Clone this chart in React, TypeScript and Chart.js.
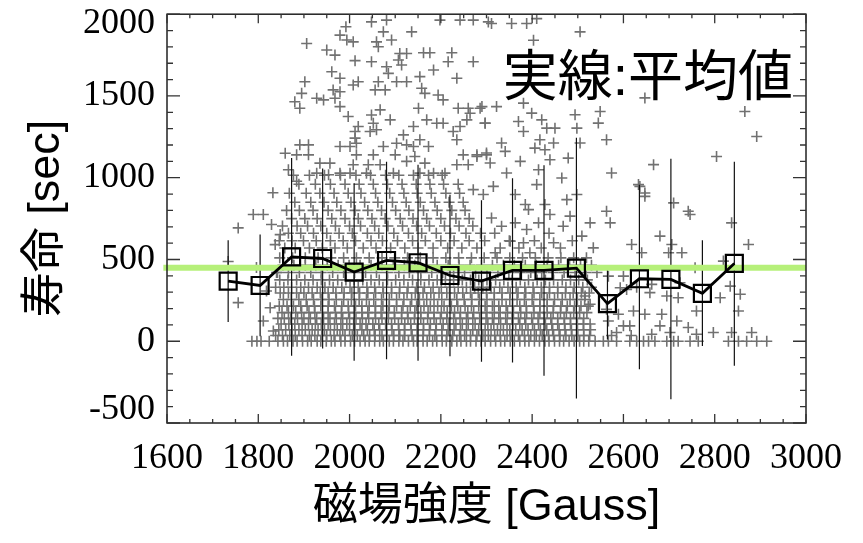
import React, { useEffect, useRef } from 'react';
import { Chart, registerables } from 'chart.js';

Chart.register(...registerables);

// ---- axes ----
const xTicks = [1600, 1800, 2000, 2200, 2400, 2600, 2800, 3000];
const yTicks = [-500, 0, 500, 1000, 1500, 2000];
const xMinorStep = 50;
const yMinorStep = 100;

const xTitle = '磁場強度 [Gauss]';
const yTitle = '寿命 [sec]';
const noteText = '実線:平均値';

// ---- binned mean with error bars ----
const binCenters = [1734, 1804, 1873, 1941, 2010, 2081, 2150, 2220, 2289, 2357, 2426, 2497, 2565, 2635, 2704, 2773, 2843];
const binMeans = [368, 341, 516, 506, 423, 494, 480, 402, 368, 433, 433, 447, 230, 382, 378, 293, 476];
const errLow = [118, 30, -89, -45, -120, -110, -120, -92, -126, -130, -211, -350, 10, -171, -354, -29, -150];
const errHigh = [618, 652, 1121, 1057, 966, 1098, 1080, 896, 862, 996, 1077, 1244, 450, 957, 1116, 618, 1098];

// overall mean (green line)
const overallMean = 450;
const overallSpan = [1592, 3000];

// ---- scatter: individual measurements ----
const upperPts: [number, number][] = [
  [2048,1953],[2081,1964],[2198,1964],[2242,1964],[2271,1964],[2304,1953],[1992,1923],[2074,1892],[2136,1892],[1979,1872],
  [1994,1842],[2008,1831],[2059,1831],[2092,1842],[1906,1821],[2063,1801],[1950,1781],[2110,1760],[2125,1760],[2162,1764],
  [2176,1764],[2224,1764],[1968,1750],[2012,1716],[2048,1709],[2107,1720],[2216,1709],[2271,1709],[2081,1679],[2114,1689],
  [2184,1659],[1961,1648],[1979,1608],[2085,1638],[2235,1608],[2154,1618],[1902,1587],[2019,1587],[2063,1587],[2103,1587],
  [2125,1587],[2008,1567],[2056,1537],[2078,1537],[2158,1547],[1964,1537],[1895,1516],[1979,1526],[2165,1516],[2194,1506],
  [1928,1486],[1880,1465],[1968,1486],[2205,1476],[1943,1476],[1891,1425],[1979,1435],[2151,1425],[2238,1425],[2260,1425],
  [2286,1425],[2067,1415],[2264,1394],[2048,1384],[1997,1374],[2089,1354],[2169,1354],[2191,1333],[2205,1333],[2257,1354],
  [2297,1333],[2052,1333],[2019,1313],[2140,1313],[2242,1313],[2012,1283],[2045,1283],[2059,1293],[2227,1283],[2118,1262],
  [2012,1242],[2235,1232],[2154,1232],[1891,1201],[1910,1201],[1979,1191],[2001,1191],[2015,1211],[2074,1191],[2103,1211],
  [2125,1201],[2140,1191],[2173,1191],[1859,1150],[1884,1140],[1910,1140],[2015,1140],[2052,1140],[2100,1140],[2143,1130],
  [2249,1140],[2279,1140],[2300,1140],[1935,1089],[1957,1089],[2008,1079],[2041,1079],[2067,1079],[2125,1100],[2165,1089],
  [2235,1079],[2260,1079],[1866,1049],[1928,1028],[1954,1018],[1979,1028],[2001,1028],[2037,1028],[2096,1028],[2154,1028],
  [2184,1028],[2209,1028],[1832,908],[1884,978],[2311,1943],[2355,1943],[2388,1943],[2410,1973],[2505,1892],[2403,1841],
  [2647,1488],
];

const rightUpperPts: [number, number][] = [
  [2290,1435],[2322,1435],[2381,1456],[2297,1334],[2370,1344],[2399,1395],[2421,1354],[2494,1385],[2549,1405],[2545,1334],
  [2381,1283],[2432,1303],[2450,1303],[2498,1303],[2866,1405],[2892,1252],[2333,1212],[2417,1232],[2447,1212],[2505,1212],
  [2563,1232],[2341,1161],[2406,1181],[2428,1171],[2300,1151],[2279,1130],[2308,1090],[2374,1100],[2439,1110],[2479,1120],
  [2804,1130],[2666,1080],[2574,1029],[2344,1029],[2414,1049],[2465,998],[2315,947],[2271,927],[2293,897],[2363,897],
  [2410,958],[2498,897],[2636,947],[2647,886],[2710,846],[2742,795],[2563,795],[2385,836],[2428,836],[2476,866],
  [2392,805],[2439,775],[2483,765],[2311,754],[2363,724],[2414,724],[2527,724],[2571,724],[2837,724],[2333,703],
  [2388,683],[2468,703],[2509,643],[2680,643],[2618,592],[2706,592],[2874,592],[2352,612],[2381,602],[2447,602],
  [2534,571],[2640,541],[2699,541],[2728,541],[2319,541],[2395,541],[2633,958],[2647,907],[2746,775],
];

const rightLowerPts: [number, number][] = [
  [2757,449],[2819,490],[2567,398],[2600,398],[2662,348],[2724,358],[2834,337],[2856,287],[2593,327],[2658,297],
  [2695,277],[2720,266],[2812,266],[2516,277],[2527,226],[2852,185],[2622,185],[2647,165],[2684,165],[2760,185],
  [2567,124],[2717,124],[2600,94],[2614,94],[2680,94],[2742,84],[2797,53],[2837,53],[2881,53],[2585,53],
  [2662,43],[2702,53],[2760,43],[2563,195],[2589,165],[2607,317],[2629,330],
];

const leftPts: [number, number][] = [
  [1734,488],[1756,693],[1756,236],[1789,775],[1811,775],[1829,714],[1848,652],[1837,591],[1796,451],[1818,307],
  [1833,63],[1811,124],[1826,205],[1840,420],
];

// dense cloud, read row by row (lifetime level -> field strengths)
const coreRowLevels = [0, 35, 70, 105, 140, 175, 215, 255, 295];
const coreRowXs: number[][] = [
  [1786,1797,1806,1824,1843,1855,1864,1876,1885,1897,1908,1916,1929,1937,1949,1960,1968,1981,1990,2002,2011,2023,2034,2043,2055,2066,2074,2087,2096,2108,2117,2129,2140,2148,2161,2170,2182,2191,2203,2212,2224,2235,2244,2256,2265,2277,2288,2297,2309,2320,2331,2340,2352,2361,2373,2384,2393,2405,2416,2428,2437,2449,2460,2469,2481,2492,2504,2513,2524,2538,2556,2567,2585,2614,2629,2644,2655,2669,2695,2710,2720,2746,2764,2830,2852,2870,2892,2914],
  [1838,1853,1869,1881,1896,1912,1924,1939,1950,1966,1979,1990,2006,2017,2031,2044,2056,2071,2082,2097,2110,2121,2137,2149,2161,2175,2187,2202,2213,2226,2241,2252,2265,2279,2292,2304,2318,2330,2345,2356,2370,2383,2397,2409,2422,2436,2447,2461,2474,2487,2500,2513,2526,2574,2617],
  [1845,1860,1874,1889,1903,1918,1931,1945,1958,1973,1985,2000,2012,2027,2039,2054,2066,2081,2093,2108,2120,2135,2148,2162,2175,2189,2202,2216,2229,2243,2256,2270,2283,2297,2310,2324,2337,2351,2364,2378,2391,2405,2418,2432,2445,2459,2472,2486,2499,2513,2528],
  [1850,1867,1880,1896,1910,1925,1938,1953,1967,1981,1994,2009,2023,2036,2051,2064,2079,2092,2107,2121,2134,2149,2162,2177,2190,2205,2218,2233,2247,2260,2275,2288,2303,2316,2331,2345,2358,2373,2386,2401,2414,2429,2443,2456,2471,2484,2499,2512,2527],
  [1843,1857,1871,1886,1900,1914,1928,1943,1957,1971,1985,2000,2014,2028,2042,2057,2071,2085,2099,2114,2128,2142,2156,2171,2185,2199,2213,2228,2242,2256,2270,2285,2299,2313,2327,2342,2356,2370,2384,2399,2413,2427,2441,2456,2470,2484,2498,2513],
  [1852,1866,1882,1895,1911,1924,1940,1953,1969,1982,1998,2011,2027,2040,2056,2069,2085,2098,2114,2127,2143,2156,2172,2185,2201,2214,2230,2243,2259,2272,2288,2301,2317,2330,2346,2359,2375,2388,2404,2417,2433,2446,2462,2475,2491,2504,2520],
  [1846,1863,1877,1893,1907,1923,1937,1953,1967,1983,1997,2013,2027,2043,2057,2073,2087,2103,2117,2133,2147,2163,2177,2193,2207,2223,2237,2253,2267,2283,2297,2313,2327,2343,2357,2373,2387,2403,2417,2433,2447,2463,2477,2493,2507,2523],
  [1855,1872,1889,1905,1921,1938,1955,1971,1987,2004,2021,2037,2053,2070,2087,2103,2119,2136,2153,2169,2185,2202,2219,2235,2251,2268,2285,2301,2317,2334,2351,2367,2383,2400,2417,2433,2449,2466,2483,2499,2515],
  [1848,1866,1884,1900,1918,1936,1953,1970,1988,2005,2022,2040,2057,2074,2092,2109,2126,2144,2161,2178,2196,2213,2230,2248,2265,2282,2300,2317,2334,2352,2369,2386,2404,2421,2438,2456,2473,2490,2508,2525],
];

const midRowLevels = [330, 375, 420, 465, 510];
const midRowXs: number[][] = [
  [1838,1856,1873,1893,1910,1929,1946,1964,1983,2001,2019,2038,2055,2073,2092,2110,2128,2147,2164,2183,2201,2219,2238,2256,2274,2292,2310,2329,2347,2365,2384,2402,2420,2438,2456,2474,2492,2511,2530],
  [1847,1865,1884,1902,1920,1938,1956,1974,1992,2010,2029,2047,2065,2083,2101,2119,2138,2156,2174,2192,2210,2228,2247,2265,2283,2301,2320,2338,2356,2374,2392,2411,2429,2447,2466,2484,2502,2521],
  [1842,1866,1890,1915,1938,1963,1987,2011,2035,2059,2083,2108,2131,2156,2180,2204,2228,2252,2276,2301,2325,2349,2373,2397,2421,2446,2470,2494,2518,2542],
  [1854,1878,1903,1926,1951,1975,1999,2023,2047,2071,2096,2120,2143,2168,2192,2216,2240,2264,2289,2313,2337,2361,2385,2409,2433,2458,2482,2506,2530],
  [1847,1875,1903,1931,1959,1987,2015,2043,2071,2099,2127,2155,2183,2211,2239,2267,2295,2323,2351,2379,2407,2435,2463,2491,2519],
];

const upperRowLevels = [570, 615, 660, 705, 750, 800, 850, 905, 960, 1015];
const upperRowXs: number[][] = [
  [1858,1881,1912,1940,1968,1995,2030,2058,2090,2121,2150,2183,2215,2246,2279,2330,2371,2420,2462],
  [1846,1874,1899,1927,1958,1986,2013,2047,2072,2105,2138,2166,2200,2229,2262,2296,2350,2405,2488],
  [1866,1893,1921,1950,1977,2006,2039,2064,2097,2129,2158,2190,2221,2255,2287,2318,2437],
  [1853,1885,1908,1937,1969,2000,2024,2055,2084,2116,2147,2175,2208,2240,2270],
  [1873,1902,1929,1961,1990,2019,2049,2078,2111,2139,2169,2200,2233,2262],
  [1862,1890,1920,1953,1981,2012,2040,2070,2101,2130,2162,2192,2224,2253],
  [1880,1915,1944,1972,2003,2033,2062,2094,2124,2155,2187,2218,2249],
  [1868,1905,1935,1966,1997,2025,2057,2088,2119,2148,2179,2211,2241],
  [1889,1925,1958,1990,2021,2052,2083,2115,2146,2176,2206,2238],
  [1877,1912,1945,1980,2014,2046,2079,2108,2140,2173,2203],
];

// ---- styling ----
const TICK_FONT = "'Liberation Serif', 'Times New Roman', serif";
const SANS_FONT = "'Liberation Sans', 'Noto Sans CJK JP', sans-serif";

function rowsToPoints(levels: number[], rows: number[][]) {
  const out: { x: number; y: number }[] = [];
  rows.forEach((xs, i) => xs.forEach((x) => out.push({ x, y: levels[i] })));
  return out;
}

const framePlugin = {
  id: 'frameTicks',
  afterDatasetsDraw(chart: any) {
    const { ctx, chartArea: a, scales } = chart;
    const xs = scales.x;
    const ys = scales.y;
    ctx.save();
    ctx.strokeStyle = '#222';
    ctx.lineWidth = 1.5;
    ctx.strokeRect(a.left, a.top, a.right - a.left, a.bottom - a.top);
    ctx.lineWidth = 1.3;
    ctx.strokeStyle = '#333';
    ctx.beginPath();
    const x0 = xTicks[0];
    const x1 = xTicks[xTicks.length - 1];
    for (let v = x0; v <= x1; v += xMinorStep) {
      const px = xs.getPixelForValue(v);
      const len = xTicks.includes(v) ? 9 : 4;
      ctx.moveTo(px, a.bottom);
      ctx.lineTo(px, a.bottom - len);
      ctx.moveTo(px, a.top);
      ctx.lineTo(px, a.top + len);
    }
    const y0 = yTicks[0];
    const y1 = yTicks[yTicks.length - 1];
    for (let v = y0; v <= y1; v += yMinorStep) {
      const py = ys.getPixelForValue(v);
      const len = yTicks.includes(v) ? 13 : 6;
      ctx.moveTo(a.left, py);
      ctx.lineTo(a.left + len, py);
      ctx.moveTo(a.right, py);
      ctx.lineTo(a.right - len, py);
    }
    ctx.stroke();

    // y tick labels, kept inside the frame's vertical extent
    ctx.fillStyle = '#000';
    ctx.font = `36px ${TICK_FONT}`;
    ctx.textAlign = 'right';
    ctx.textBaseline = 'middle';
    yTicks.forEach((v) => {
      const py = ys.getPixelForValue(v);
      const cy = Math.min(Math.max(py, a.top + 9), a.bottom - 13);
      ctx.fillText(String(v), a.left - 12, cy);
    });
    ctx.restore();
  },
  afterDraw(chart: any) {
    const { ctx, chartArea: a } = chart;
    ctx.save();
    ctx.fillStyle = '#000';
    ctx.font = `55px ${SANS_FONT}`;
    ctx.textAlign = 'right';
    ctx.textBaseline = 'alphabetic';
    ctx.fillText(noteText, a.right - 13, 95);
    ctx.restore();
  },
};

export default function App() {
  const ref = useRef<HTMLCanvasElement | null>(null);

  useEffect(() => {
    document.body.style.margin = '0';
    const canvas = ref.current;
    if (!canvas) return;

    const scatter = [
      ...upperPts.map(([x, y]) => ({ x, y })),
      ...rightUpperPts.map(([x, y]) => ({ x, y })),
      ...rightLowerPts.map(([x, y]) => ({ x, y })),
      ...leftPts.map(([x, y]) => ({ x, y })),
      ...rowsToPoints(coreRowLevels, coreRowXs),
      ...rowsToPoints(midRowLevels, midRowXs),
      ...rowsToPoints(upperRowLevels, upperRowXs),
    ];

    const errData: { x: number; y: number | null }[] = [];
    binCenters.forEach((x, i) => {
      errData.push({ x, y: errLow[i] });
      errData.push({ x, y: errHigh[i] });
      errData.push({ x, y: null });
    });

    const chart = new Chart(canvas, {
      type: 'scatter',
      data: {
        datasets: [
          {
            label: 'mean',
            data: binCenters.map((x, i) => ({ x, y: binMeans[i] })),
            showLine: true,
            borderColor: '#000',
            borderWidth: 2.8,
            pointStyle: 'rect',
            pointRadius: 12,
            pointBorderWidth: 2.2,
            pointBorderColor: '#000',
            pointBackgroundColor: 'rgba(0,0,0,0)',
          } as any,
          {
            label: 'overall',
            data: overallSpan.map((x) => ({ x, y: overallMean })),
            showLine: true,
            borderColor: '#b6f07a',
            borderWidth: 6,
            pointRadius: 0,
            clip: false,
          } as any,
          {
            label: 'err',
            data: errData,
            showLine: true,
            spanGaps: false,
            borderColor: '#111',
            borderWidth: 1.2,
            pointRadius: 0,
          } as any,
          {
            label: 'points',
            data: scatter,
            pointStyle: 'cross',
            pointRadius: 5.5,
            pointBorderWidth: 1.6,
            pointBorderColor: '#717171',
            borderColor: '#717171',
          } as any,
        ],
      },
      options: {
        responsive: false,
        animation: false,
        events: [],
        layout: { padding: { left: 0, right: 57, top: 14, bottom: 0 } },
        plugins: { legend: { display: false }, tooltip: { enabled: false } },
        scales: {
          x: {
            type: 'linear',
            min: 1600,
            max: 3000,
            grid: { display: false, drawTicks: false },
            border: { display: false },
            ticks: {
              stepSize: 200,
              autoSkip: false,
              maxRotation: 0,
              minRotation: 0,
              padding: 14,
              color: '#000',
              font: { family: TICK_FONT, size: 36 },
              callback: (v: any) => String(v),
            },
            title: {
              display: true,
              text: xTitle,
              color: '#000',
              font: { family: SANS_FONT, size: 45 },
              padding: { top: 0, bottom: 8 },
            },
            afterFit: (s: any) => {
              s.height = 120;
              s.paddingLeft = 0;
              s.paddingRight = 0;
              s.paddingTop = 0;
              s.paddingBottom = 0;
            },
          },
          y: {
            type: 'linear',
            min: -500,
            max: 2000,
            grid: { display: false, drawTicks: false },
            border: { display: false },
            ticks: {
              display: false,
              stepSize: 500,
            },
            title: {
              display: true,
              text: yTitle,
              color: '#000',
              font: { family: SANS_FONT, size: 45 },
              padding: { top: 20, bottom: 0 },
            },
            afterFit: (s: any) => {
              s.width = 167;
              s.paddingLeft = 0;
              s.paddingRight = 0;
              s.paddingTop = 0;
              s.paddingBottom = 0;
            },
          },
        },
      } as any,
      plugins: [framePlugin],
    });

    return () => chart.destroy();
  }, []);

  return (
    <div style={{ width: 863, height: 543, background: '#fff' }}>
      <canvas ref={ref} width={863} height={543} style={{ display: 'block' }} />
    </div>
  );
}
